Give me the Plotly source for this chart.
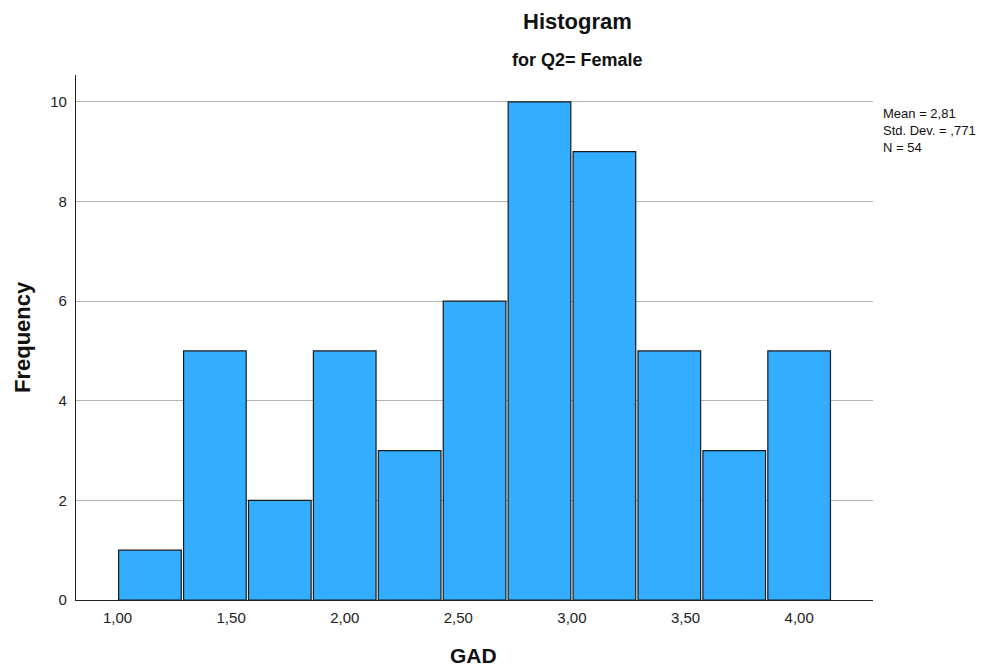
import plotly.graph_objects as go

# Data
bin_width = 2 / 7
bin_start = 1.0
counts = [1, 5, 2, 5, 3, 6, 10, 9, 5, 3, 5]
tick_vals = [1.0, 1.5, 2.0, 2.5, 3.0, 3.5, 4.0]
tick_text = ["1,00", "1,50", "2,00", "2,50", "3,00", "3,50", "4,00"]
y_ticks = [0, 2, 4, 6, 8, 10]
stats_lines = ["Mean = 2,81", "Std. Dev. = ,771", "N = 54"]

centers = [bin_start + bin_width * (i + 0.5) for i in range(len(counts))]

FONT = "Liberation Sans, Arial, sans-serif"

OFF = 8  # page body margin
W, H = 992 - OFF, 669 - OFF
# target plot-area pixel positions in the page
L, R, T, B = 76, 873, 75, 600

fig = go.Figure()
fig.add_trace(go.Bar(
    x=centers, y=counts, width=bin_width * 0.965,
    marker=dict(color="#33adff", line=dict(color="#1a1a1a", width=1.2)),
    hoverinfo="x+y",
))

fig.update_layout(
    width=W, height=H,
    margin=dict(l=L - OFF, r=W - (R - OFF), t=T - OFF, b=H - (B - OFF), pad=0),
    paper_bgcolor="white", plot_bgcolor="white",
    showlegend=False,
    font=dict(family=FONT, color="#222222", size=15),
    xaxis=dict(
        range=[0.8173, 4.325],
        tickvals=tick_vals, ticktext=tick_text,
        showgrid=False, zeroline=False,
        showline=True, linecolor="#222222", linewidth=1.3,
        ticks="", ticklabelstandoff=4,
        tickfont=dict(size=15, color="#222222", family=FONT),
    ),
    yaxis=dict(
        range=[0, 10.54],
        tickvals=y_ticks,
        showgrid=True, gridcolor="#b4b4b4", gridwidth=1,
        zeroline=False,
        showline=True, linecolor="#222222", linewidth=1.3,
        ticks="", ticklabelstandoff=5,
        tickfont=dict(size=15, color="#222222", family=FONT),
    ),
)

def px_x(p):
    return (p - L) / (R - L)

def px_y(p):
    return (B - p) / (B - T)

anns = [
    dict(text="<b>Histogram</b>", x=px_x(577), y=px_y(21), font=dict(size=22, color="#111111")),
    dict(text="<b>for Q2= Female</b>", x=px_x(577), y=px_y(60), font=dict(size=18, color="#111111")),
    dict(text="<b>Frequency</b>", x=px_x(22), y=px_y(337), textangle=-90, font=dict(size=22, color="#111111")),
    dict(text="<b>GAD</b>", x=px_x(473), y=px_y(655), font=dict(size=21, color="#111111")),
]
for a in anns:
    a.update(xref="paper", yref="paper", showarrow=False, xanchor="center", yanchor="middle")
    fig.add_annotation(**a)

fig.add_annotation(
    text="<br>".join(stats_lines), xref="paper", yref="paper",
    x=px_x(881), y=px_y(104),
    xanchor="left", yanchor="top", align="left", showarrow=False,
    font=dict(size=13, color="#111111", family=FONT),
)

fig.write_html("out.html")
